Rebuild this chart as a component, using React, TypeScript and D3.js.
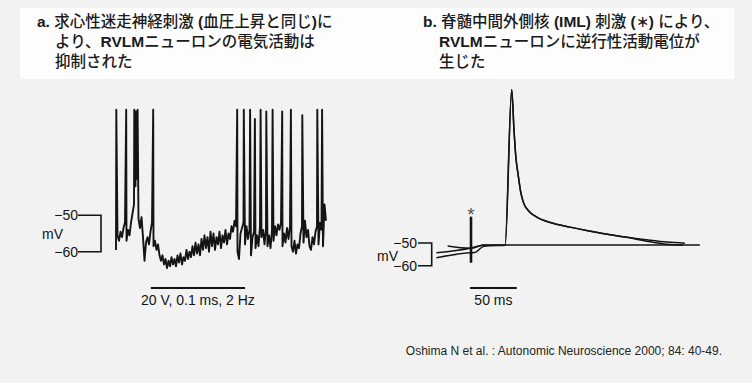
import { useEffect, useRef } from 'react'
import * as d3 from 'd3'

// Panel a: membrane potential (mV), sampled every 0.05 s
const leftStep = 0.05
const leftSamples = [
  -59.5, -55.5, -57.0, -54.5, -56.0, -53.5, -52.0, -57.0, -54.0, -55.5,
  -52.0, -49.5, -47.0, -42.0, -40.0, -51.0, -53.5, -50.5, -56.0, -62.5,
  -57.5, -56.0, -58.0, -54.5, -52.0, -58.5, -57.0, -59.5, -58.0, -61.0,
  -62.5, -61.0, -63.5, -62.0, -64.5, -62.5, -64.0, -61.5, -63.5, -62.0,
  -64.0, -61.0, -63.0, -60.5, -63.5, -61.5, -62.5, -59.5, -62.0, -60.0,
  -61.5, -58.5, -61.0, -57.5, -60.5, -58.0, -61.0, -56.5, -59.5, -55.5,
  -59.0, -56.0, -60.0, -54.5, -58.5, -55.0, -59.5, -56.0, -58.0, -54.5,
  -59.0, -55.5, -57.5, -54.0, -58.0, -55.0, -56.5, -53.0, -54.5, -51.5,
  -53.0, -60.0, -62.0, -55.0, -53.5, -52.0, -58.0, -53.0, -56.5, -54.0,
  -61.0, -56.0, -54.5, -59.0, -55.5, -58.5, -53.0, -56.0, -54.0, -58.0,
  -53.5, -58.5, -55.5, -59.0, -54.0, -57.0, -53.0, -55.5, -52.5, -54.0,
  -52.0, -58.5, -55.0, -57.5, -53.5, -56.5, -53.0, -58.5, -60.0, -57.0,
  -60.5, -58.0, -59.0, -55.0, -53.0, -57.5, -51.5, -56.0, -54.0, -58.5,
  -59.5, -56.0, -58.0, -54.5, -53.0, -58.0, -52.0, -54.0, -58.5, -47.0,
  -51.5,
]
const spikeTimes = [0.01, 0.34, 0.61, 0.67, 0.72, 1.24, 4.04, 4.26, 4.47, 4.63, 4.82, 5.01, 5.22, 5.54, 5.83, 6.21, 6.71, 6.87]
const spikePeaks = [-21, -21, -21, -21.5, -21, -21, -21, -21, -21, -23.5, -21, -21.5, -21, -21.5, -21, -22.5, -21, -21]
const stimBar = [1.16, 4.3] // s
const stimLabel = '20 V, 0.1 ms, 2 Hz'

// Panel b: three overlaid sweeps [ms, mV], stimulus at 0 ms
const sweepFlat = [[-25, -51.3], [-1, -52.3], [1, -52.3], [13, -50.9], [245, -50.9]]
const sweepUpper = [
  [-37, -54.3], [-1, -52.3], [13, -51], [36.4, -51], [43.6, 17.5], [46, 0], [48, -12],
  [50.5, -20], [53, -27], [56, -32], [62, -36], [70, -38.5], [85, -41], [106, -43],
  [125, -44.6], [141, -45.8], [165, -47.4], [188, -48.6], [210, -49.6], [229, -50.1],
]
const sweepLower = [
  [-37, -56.5], [-1, -54.3], [4, -54.2], [13, -51.6], [20, -51.2], [36.6, -51], [43.6, 17.5],
  [46, 0], [48, -12], [50.5, -20], [53, -27], [56, -32], [62, -36], [70, -38.5], [85, -41],
  [106, -43], [125, -44.6], [141, -45.8], [165, -47.4], [188, -49.2], [210, -50.6], [227, -51],
]
const artifact = [-38.4, -58.7] // mV span at 0 ms
const msBar = [-1, 49]
const msLabel = '50 ms'

const bracketValues = [-50, -60]
const bracketLabels = ['\u221250', '\u221260']

const titleA = ['a. 求心性迷走神経刺激 (血圧上昇と同じ)に', 'より、RVLMニューロンの電気活動は', '抑制された']
const titleB = ['b. 脊髄中間外側核 (IML) 刺激 (∗) により、', 'RVLMニューロンに逆行性活動電位が', '生じた']
const citation = 'Oshima N et al. : Autonomic Neuroscience 2000; 84: 40-49.'

const W = 752
const H = 383
const INK = '#141414'
const SANS = '"Liberation Sans", Arial, Helvetica, sans-serif'
const TITLE_FONT = '"Liberation Sans", "Noto Sans CJK JP", sans-serif'

function App() {
  const ref = useRef<SVGSVGElement | null>(null)

  useEffect(() => {
    if (!ref.current) return
    const svg = d3.select(ref.current)
    svg.selectAll('*').remove()

    svg.append('rect').attr('width', W).attr('height', H).attr('fill', '#f2f2f2')
    svg.append('rect').attr('x', 20).attr('y', 8).attr('width', 714).attr('height', 71).attr('fill', '#fdfdfd')

    // titles, one text per line; latin runs bold, kana/kanji medium
    const drawTitle = (lines: string[], x: number, indent: number) => {
      lines.forEach((s, i) => {
        const t = svg.append('text')
          .attr('x', i === 0 ? x : x + indent)
          .attr('y', 27 + i * 20)
          .attr('font-family', TITLE_FONT)
          .attr('font-size', 15.5)
          .attr('fill', '#1a1a1a')
        const runs = s.match(/[\x20-\x7e]+|[^\x20-\x7e]+/g) || []
        runs.forEach(r => {
          t.append('tspan')
            .attr('font-weight', /^[\x20-\x7e]+$/.test(r) ? 700 : 500)
            .text(r)
        })
      })
    }
    drawTitle(titleA, 37, 18)
    drawTitle(titleB, 423, 16)

    // ---------- panel a ----------
    const xa = d3.scaleLinear().domain([0, 7]).range([116, 326])
    const ya = d3.scaleLinear().domain([-50, -60]).range([215.3, 251.7])

    const pts = leftSamples.map((v, i) => ({ t: i * leftStep, v }))
      .concat(spikeTimes.map((t, i) => ({ t, v: spikePeaks[i] })))
      .sort((a, b) => a.t - b.t)

    svg.append('path')
      .attr('d', d3.line<{ t: number, v: number }>().x(d => xa(d.t)).y(d => ya(d.v))(pts))
      .attr('fill', 'none')
      .attr('stroke', INK)
      .attr('stroke-width', 1.9)
      .attr('stroke-linejoin', 'round')

    const bracket = (x0: number, x1: number, y: d3.ScaleLinear<number, number>, labelX: number, mvX: number, mvDy: number) => {
      const g = svg.append('g')
      const path = d3.path()
      path.moveTo(x0, y(bracketValues[0]))
      path.lineTo(x1, y(bracketValues[0]))
      path.lineTo(x1, y(bracketValues[1]))
      path.lineTo(x0, y(bracketValues[1]))
      g.append('path').attr('d', path.toString()).attr('fill', 'none').attr('stroke', INK).attr('stroke-width', 1.6)
      bracketValues.forEach((v, i) => {
        g.append('text')
          .attr('x', labelX).attr('y', y(v)).attr('dy', '0.36em')
          .attr('text-anchor', 'end')
          .attr('font-family', SANS).attr('font-size', 14).attr('fill', INK)
          .text(bracketLabels[i])
      })
      g.append('text')
        .attr('x', mvX).attr('y', (y(bracketValues[0]) + y(bracketValues[1])) / 2 + mvDy).attr('dy', '0.36em')
        .attr('font-family', SANS).attr('font-size', 14).attr('fill', INK)
        .text('mV')
    }
    bracket(78, 101, ya, 78, 42, 0)

    svg.append('line')
      .attr('x1', xa(stimBar[0])).attr('x2', xa(stimBar[1]))
      .attr('y1', 288).attr('y2', 288)
      .attr('stroke', INK).attr('stroke-width', 2)
    svg.append('text')
      .attr('x', (xa(stimBar[0]) + xa(stimBar[1])) / 2).attr('y', 305)
      .attr('text-anchor', 'middle')
      .attr('font-family', SANS).attr('font-size', 14).attr('fill', INK)
      .text(stimLabel)

    // ---------- panel b ----------
    const xb = d3.scaleLinear().domain([0, 50]).range([471, 517.7])
    const yb = d3.scaleLinear().domain([-50, -60]).range([243, 265.7])
    const line = d3.line<number[]>().x(d => xb(d[0])).y(d => yb(d[1])).curve(d3.curveMonotoneX)

    ;[sweepFlat, sweepUpper, sweepLower].forEach(s => {
      svg.append('path')
        .attr('d', line(s))
        .attr('fill', 'none')
        .attr('stroke', INK)
        .attr('stroke-width', 1.5)
        .attr('stroke-linejoin', 'round')
    })

    svg.append('line')
      .attr('x1', xb(0)).attr('x2', xb(0))
      .attr('y1', yb(artifact[0])).attr('y2', yb(artifact[1]))
      .attr('stroke', INK).attr('stroke-width', 2.6)
    svg.append('text')
      .attr('x', xb(0)).attr('y', yb(artifact[0]) + 4)
      .attr('text-anchor', 'middle')
      .attr('font-family', SANS).attr('font-size', 19).attr('fill', '#555')
      .text('*')

    bracket(418, 431.7, yb, 417, 377, 2)

    svg.append('line')
      .attr('x1', xb(msBar[0])).attr('x2', xb(msBar[1]))
      .attr('y1', 288).attr('y2', 288)
      .attr('stroke', INK).attr('stroke-width', 2)
    svg.append('text')
      .attr('x', (xb(msBar[0]) + xb(msBar[1])) / 2).attr('y', 305)
      .attr('text-anchor', 'middle')
      .attr('font-family', SANS).attr('font-size', 14).attr('fill', INK)
      .text(msLabel)

    svg.append('text')
      .attr('x', 722).attr('y', 355)
      .attr('text-anchor', 'end')
      .attr('font-family', SANS).attr('font-size', 12).attr('fill', '#222')
      .text(citation)
  }, [])

  return (
    <svg
      ref={ref}
      width={W}
      height={H}
      style={{ position: 'absolute', left: 0, top: 0, display: 'block' }}
    />
  )
}

export default App
